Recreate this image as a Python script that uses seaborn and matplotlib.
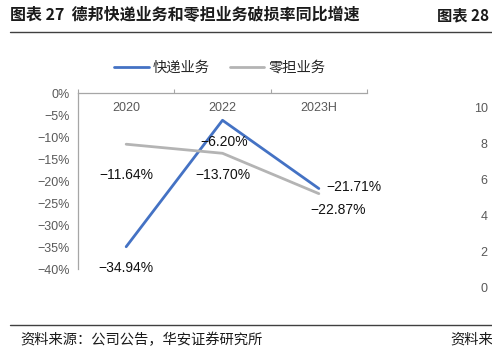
import matplotlib
matplotlib.use("Agg")
import matplotlib.pyplot as plt
import seaborn as sns
import pandas as pd
from matplotlib.ticker import FixedLocator

categories = ["2020", "2022", "2023H"]
express = [-34.94, -6.20, -21.71]
ltl = [-11.64, -13.70, -22.87]
series_names = ["快递业务", "零担业务"]
express_labels = ["−34.94%", "−6.20%", "−21.71%"]
ltl_labels = ["−11.64%", "−13.70%", "−22.87%"]
yticks = [0, -5, -10, -15, -20, -25, -30, -35, -40]
ytick_labels = ["0%", "−5%", "−10%", "−15%", "−20%", "−25%", "−30%", "−35%", "−40%"]
right_ticks = [0, 2, 4, 6, 8, 10]

sns.set_style("white")
plt.rcParams["font.family"] = ["Noto Sans CJK SC", "DejaVu Sans"]
plt.rcParams["axes.unicode_minus"] = False

df = pd.DataFrame({
    "year": categories * 2,
    "value": express + ltl,
    "series": [series_names[0]] * 3 + [series_names[1]] * 3,
})

W, H = 492, 356
fig = plt.figure(figsize=(W / 100, H / 100), dpi=100)

# title and header rule
fig.text(10 / W, 1 - 15 / H, "图表 27  德邦快递业务和零担业务破损率同比增速", fontsize=11.5,
         fontweight="bold", ha="left", va="center", color="#1a1a1a")
fig.text(437 / W, 1 - 15 / H, "图表 28", fontsize=11, fontweight="bold",
         ha="left", va="center", color="#1a1a1a")
fig.add_artist(plt.Line2D([10 / W, 1.0], [1 - 32 / H] * 2, color="#404040", lw=1.0,
                          transform=fig.transFigure))
# footer rule and text
fig.add_artist(plt.Line2D([10 / W, 1.0], [1 - 325 / H] * 2, color="#404040", lw=1.0,
                          transform=fig.transFigure))
fig.text(20 / W, 1 - 340 / H, "资料来源：公司公告，华安证券研究所", fontsize=10.3,
         ha="left", va="center", color="#1a1a1a")
fig.text(450 / W, 1 - 340 / H, "资料来", fontsize=10.3, ha="left", va="center", color="#1a1a1a")

ax = fig.add_axes([78 / W, 1 - 269 / H, (367 - 78) / W, (269 - 93) / H])
palette = {series_names[0]: "#4472C4", series_names[1]: "#B4B4B4"}
sns.lineplot(data=df, x="year", y="value", hue="series", palette=palette, sort=False,
             linewidth=2.0, ax=ax, legend=True)

ax.set_xlim(-0.5, 2.5)
ax.set_ylim(-40, 0)
ax.set_yticks(yticks)
ax.set_yticklabels(ytick_labels, family=["Liberation Sans", "DejaVu Sans"], fontsize=9,
                   color="#595959")
ax.tick_params(axis="y", direction="out", length=4, width=0.8, color="#A6A6A6", pad=2)

ax.xaxis.tick_top()
ax.set_xticks(range(len(categories)))
ax.set_xticklabels(categories, family=["Liberation Sans", "DejaVu Sans"], fontsize=9,
                   color="#595959")
ax.tick_params(axis="x", which="major", length=0, pad=-15)
ax.xaxis.set_minor_locator(FixedLocator([-0.5, 0.5, 1.5, 2.5]))
ax.tick_params(axis="x", which="minor", top=True, direction="out", length=3, width=0.8,
               color="#A6A6A6")
ax.set_xlabel("")
ax.set_ylabel("")
for s in ["bottom", "right"]:
    ax.spines[s].set_visible(False)
for s in ["left", "top"]:
    ax.spines[s].set_color("#A6A6A6")
    ax.spines[s].set_linewidth(0.9)

lab_font = dict(family=["Liberation Sans", "DejaVu Sans"], fontsize=10, color="#111111")
express_offsets = [(0, -21, "center"), (2, -22, "center"), (8, 2, "left")]
ltl_offsets = [(0, -31, "center"), (0, -22, "center"), (19, -16, "center")]
for i in range(3):
    dx, dy, ha = express_offsets[i]
    ax.annotate(express_labels[i], (i, express[i]), xytext=(dx, dy), textcoords="offset pixels",
                ha=ha, va="center", **lab_font)
    dx, dy, ha = ltl_offsets[i]
    ax.annotate(ltl_labels[i], (i, ltl[i]), xytext=(dx, dy), textcoords="offset pixels",
                ha=ha, va="center", **lab_font)

leg = ax.legend(loc="center", bbox_to_anchor=((220 - 78) / (367 - 78), 1 + (93 - 68) / (269 - 93)),
                ncol=2, frameon=False, fontsize=10.3, handlelength=2.4, columnspacing=1.4,
                handletextpad=0.3)
for t in leg.get_texts():
    t.set_color("#262626")

# neighbouring chart's axis labels (cut off at the right edge)
ax2 = fig.add_axes([489 / W, 1 - 287 / H, 2 / W, (287 - 107) / H])
ax2.set_ylim(0, 10)
ax2.set_yticks(right_ticks)
ax2.set_yticklabels([str(v) for v in right_ticks], family=["Liberation Sans", "DejaVu Sans"],
                    fontsize=9, color="#595959")
ax2.tick_params(axis="y", length=0, pad=1)
ax2.set_xticks([])
for s in ax2.spines.values():
    s.set_visible(False)
ax2.patch.set_alpha(0)

fig.savefig("out.png", dpi=100)
